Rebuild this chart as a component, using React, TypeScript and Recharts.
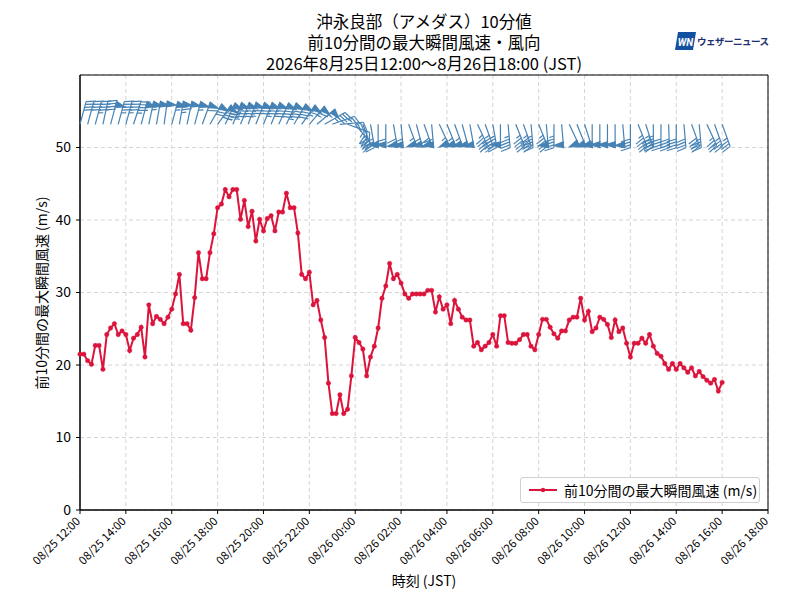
import React from 'react';
import { ComposedChart, Line, XAxis, YAxis, CartesianGrid, ReferenceArea } from 'recharts';

const FONT = '"Noto Sans CJK JP", "Noto Sans", sans-serif';

// 10-minute maximum gust (m/s), from 08/25 12:00 to 08/26 16:00 JST
const STEP_MIN = 10;
const GUST = [
  21.5, 21.5, 20.6, 20.1, 22.7, 22.7, 19.4, 24.2, 25.1, 25.7,
  24.2, 24.7, 24.2, 22.0, 23.7, 24.2, 25.2, 21.1, 28.3, 25.7,
  26.7, 26.3, 25.7, 26.6, 27.7, 29.8, 32.5, 25.7, 25.7, 24.8,
  29.3, 35.5, 31.9, 31.9, 35.5, 38.1, 41.7, 42.2, 44.2, 43.2,
  44.2, 44.2, 40.1, 42.7, 39.1, 41.2, 37.1, 40.1, 38.5, 40.2,
  40.6, 38.5, 41.1, 41.1, 43.7, 41.7, 41.7, 38.2, 32.5, 31.9,
  32.8, 28.3, 28.9, 26.2, 23.8, 17.5, 13.3, 13.3, 15.9, 13.3,
  13.9, 18.5, 23.8, 23.1, 22.2, 18.5, 21.1, 22.6, 25.1, 29.2,
  30.9, 34.0, 31.9, 32.5, 31.3, 29.8, 29.2, 29.8, 29.8, 29.8,
  29.8, 30.3, 30.3, 27.3, 29.4, 27.7, 28.3, 25.7, 28.9, 27.7,
  26.6, 26.2, 26.2, 22.6, 23.1, 22.1, 22.6, 23.1, 24.2, 22.6,
  26.8, 26.8, 23.1, 23.0, 23.0, 23.5, 24.2, 24.2, 22.6, 22.1,
  24.2, 26.3, 26.3, 25.2, 24.3, 23.7, 24.7, 24.7, 26.2, 26.6,
  26.6, 29.2, 26.2, 27.4, 24.6, 25.1, 26.6, 26.3, 25.6, 23.8,
  26.2, 24.6, 25.1, 23.0, 21.1, 23.0, 23.0, 23.7, 23.0, 24.2,
  22.6, 21.6, 21.2, 20.2, 19.4, 20.2, 19.4, 20.2, 19.6, 19.0,
  19.6, 18.5, 19.1, 18.4, 17.9, 17.5, 18.0, 16.4, 17.6,
];

// wind direction (degrees, from) for every 20 minutes
const WIND_DIR = [
  15, 15, 15, 12, 15, 15, 15, 18, 15, 12,
  10, 8, 15, 10, 12, 15, 20, 30, 35, 25,
  22, 22, 20, 22, 22, 22, 25, 25, 30, 35,
  40, 50, 60, 70, 85, 110, 140, 160, 170, 180,
  180, 170, 175, 160, 165, 160, 175, 155, 158, 160,
  165, 170, 155, 160, 170, 180, 175, 158, 160, 175,
  158, 175, 180, 175, 155, 158, 162, 180, 180, 180,
  180, 175, 180, 158, 162, 180, 180, 178, 180, 175,
  160, 175, 155, 160, 160,
];

const BARB_LEVEL = 53.2;
const MS_TO_KT = 1.94384;

const X_TICKS = [0, 2, 4, 6, 8, 10, 12, 14, 16, 18, 20, 22, 24, 26, 28, 30];
const X_TICK_LABELS = [
  '08/25 12:00', '08/25 14:00', '08/25 16:00', '08/25 18:00', '08/25 20:00',
  '08/25 22:00', '08/26 00:00', '08/26 02:00', '08/26 04:00', '08/26 06:00',
  '08/26 08:00', '08/26 10:00', '08/26 12:00', '08/26 14:00', '08/26 16:00',
  '08/26 18:00',
];
const Y_TICKS = [0, 10, 20, 30, 40, 50];

const TITLE_LINES = [
  '沖永良部（アメダス）10分値',
  '前10分間の最大瞬間風速・風向',
  '2026年8月25日12:00〜8月26日18:00 (JST)',
];
const SERIES_NAME = '前10分間の最大瞬間風速 (m/s)';

const rows = GUST.map((g, i) => ({
  t: (i * STEP_MIN) / 60,
  gust: g,
  barb: i % 2 === 0 ? BARB_LEVEL : null,
  dir: i % 2 === 0 ? WIND_DIR[i / 2] : null,
  kt: g * MS_TO_KT,
}));

const RED = '#DC143C';
const BLUE = '#4682B4';

function Barb(props: any) {
  const { cx, cy, payload, index } = props;
  if (!payload || payload.dir == null || cx == null || cy == null || isNaN(cy)) {
    return <g key={`b${index}`} />;
  }
  const L = 23.5;
  const H = 0.4 * L;
  const W = 0.25 * L;
  const SP = 0.125 * L;
  const r = (payload.dir * Math.PI) / 180;
  const sx = Math.sin(r);
  const sy = -Math.cos(r);
  const bx = -sy;
  const by = sx;
  const P = (a: number, s: number) =>
    `${(cx + a * sx + s * bx).toFixed(2)},${(cy + a * sy + s * by).toFixed(2)}`;
  let mag = 5 * Math.round(payload.kt / 5);
  const nf = Math.floor(mag / 50);
  mag -= nf * 50;
  const nb = Math.floor(mag / 10);
  mag -= nb * 10;
  const half = mag >= 5;
  const parts: any[] = [];
  parts.push(<path key="s" d={`M${P(0, 0)}L${P(L, 0)}`} />);
  let off = L;
  for (let k = 0; k < nf; k++) {
    if (off !== L) off += SP / 2;
    parts.push(
      <polygon key={`f${k}`} points={`${P(off, 0)} ${P(off - W / 2, H)} ${P(off - W, 0)}`} fill={BLUE} />
    );
    off -= W + SP;
  }
  for (let k = 0; k < nb; k++) {
    parts.push(<path key={`l${k}`} d={`M${P(off, 0)}L${P(off + W / 2, H)}`} />);
    off -= SP;
  }
  if (half) {
    if (off === L) off -= 1.5 * SP;
    parts.push(<path key="h" d={`M${P(off, 0)}L${P(off + W / 4, H / 2)}`} />);
  }
  return (
    <g key={`b${index}`} stroke={BLUE} strokeWidth={1.2} fill="none" strokeLinejoin="miter">
      {parts}
    </g>
  );
}

function GustDot(props: any) {
  const { cx, cy, index } = props;
  if (cx == null || cy == null) return <g key={`d${index}`} />;
  return <circle key={`d${index}`} cx={cx} cy={cy} r={2.2} fill={RED} stroke={RED} strokeWidth={0.5} />;
}

function XTick(props: any) {
  const { x, y, payload } = props;
  const idx = X_TICKS.indexOf(payload.value);
  const label = idx >= 0 ? X_TICK_LABELS[idx] : '';
  return (
    <g transform={`translate(${x + 1},${y + 6})`}>
      <text x={0} y={0} textAnchor="end" transform="rotate(-45)" fontSize={11.5} fill="#000" fontFamily={FONT}>
        {label}
      </text>
    </g>
  );
}

function Logo() {
  return (
    <div style={{ position: 'absolute', left: 675, top: 31, display: 'flex', alignItems: 'center', height: 20 }}>
      <svg width={21} height={20}>
        <polygon points="3,1 21,1 18,19 0,19" fill="#1450A0" />
        <text x={10.5} y={14.5} textAnchor="middle" fontSize={10} fontWeight={700} fontStyle="italic" fill="#fff" fontFamily="Roboto, sans-serif">WN</text>
      </svg>
      <span style={{ marginLeft: 1, fontSize: 9.5, fontWeight: 700, color: '#1D2F6E', fontFamily: FONT, letterSpacing: -0.5 }}>
        ウェザーニュース
      </span>
    </div>
  );
}

export default function App() {
  return (
    <div style={{ position: 'absolute', left: 0, top: 0, width: 800, height: 600, background: '#fff', fontFamily: FONT, overflow: 'hidden' }}>
      <ComposedChart width={800} height={600} data={rows} margin={{ top: 75, right: 32, bottom: 0, left: 0 }}>
        <CartesianGrid stroke="#cfcfcf" strokeDasharray="4 3" strokeWidth={0.9} />
        <XAxis
          dataKey="t"
          type="number"
          domain={[0, 30]}
          ticks={X_TICKS}
          interval={0}
          height={90}
          tick={<XTick />}
          tickSize={4}
          tickMargin={2}
          axisLine={{ stroke: '#000' }}
          tickLine={{ stroke: '#000' }}
        />
        <YAxis
          type="number"
          domain={[0, 60]}
          ticks={Y_TICKS}
          interval={0}
          width={80}
          tickSize={4}
          tickMargin={5}
          tick={{ fontSize: 14, fill: '#000', fontFamily: FONT }}
          axisLine={{ stroke: '#000' }}
          tickLine={{ stroke: '#000' }}
        />
        <ReferenceArea x1={0} x2={30} y1={0} y2={60} fill="none" stroke="#000" strokeWidth={1} />
        <Line
          dataKey="gust"
          stroke={RED}
          strokeWidth={2}
          dot={GustDot}
          activeDot={false}
          isAnimationActive={false}
        />
        <Line
          dataKey="barb"
          stroke="none"
          dot={Barb}
          activeDot={false}
          isAnimationActive={false}
          connectNulls={false}
        />
      </ComposedChart>

      <div style={{ position: 'absolute', left: 0, width: 848, top: 11, textAlign: 'center', fontSize: 16.5, lineHeight: '21px', color: '#000' }}>
        {TITLE_LINES.map((l) => (
          <div key={l} style={{ height: 21 }}>{l}</div>
        ))}
      </div>

      <Logo />

      <div style={{ position: 'absolute', left: 41, top: 293, transform: 'translate(-50%, -50%) rotate(-90deg)', whiteSpace: 'nowrap', fontSize: 14, color: '#000' }}>
        {SERIES_NAME}
      </div>

      <div style={{ position: 'absolute', left: 0, width: 848, top: 570, textAlign: 'center', fontSize: 14, lineHeight: '20px', color: '#000' }}>
        時刻 (JST)
      </div>

      <div style={{ position: 'absolute', left: 520, top: 477, width: 240, height: 26, boxSizing: 'border-box', border: '1px solid #d0d0d0', borderRadius: 3, background: 'rgba(255,255,255,0.85)', display: 'flex', alignItems: 'center' }}>
        <svg width={36} height={20} style={{ marginLeft: 6 }}>
          <line x1={2} y1={10} x2={30} y2={10} stroke={RED} strokeWidth={2} />
          <circle cx={16} cy={10} r={2.2} fill={RED} />
        </svg>
        <span style={{ fontSize: 14, color: '#000', marginLeft: 1, whiteSpace: 'nowrap' }}>{SERIES_NAME}</span>
      </div>
    </div>
  );
}
